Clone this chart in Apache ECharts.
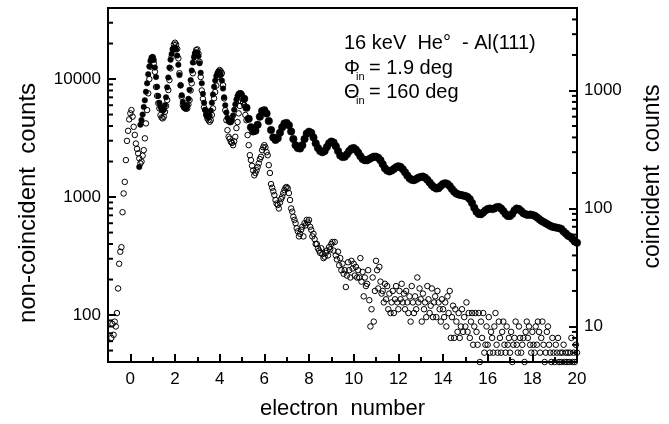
<!DOCTYPE html>
<html>
<head>
<meta charset="utf-8">
<script src="https://cdn.jsdelivr.net/npm/echarts@6/dist/echarts.min.js"></script>
<style>
html, body { margin: 0; background: #fff; }
#chart { width: 669px; height: 424px; }
</style>
</head>
<body>
<div id="chart"></div>
<script>
// axis ranges
const xRange = [-1, 20]
const leftRange = [40, 40000]   // non-coincident counts
const rightRange = [5, 5000]    // coincident counts
const leftMinor = [50, 60, 70, 80, 90, 200, 300, 400, 500, 600, 700, 800, 900,
    2000, 3000, 4000, 5000, 6000, 7000, 8000, 9000, 20000, 30000]
const rightMinor = [6, 7, 8, 9, 20, 30, 40, 50, 60, 70, 80, 90, 200, 300, 400, 500, 600, 700, 800, 900,
    2000, 3000, 4000]

// non-coincident counts (filled), x from 0.40 step 0.05 up to 5.00
const filledAStart = 0.40, filledAStep = 0.05
const filledA = [
    1800, 4100, 4500, 5000, 5800, 6600, 7800, 9200, 11000, 12800, 14200, 15200,
    15400, 14500, 12500, 10400, 8600, 7200, 6300, 5800, 5500, 5400, 5500, 6000, 7000, 8500, 10300, 12500, 14600, 16300, 17600, 18300,
    18500, 17800, 15800, 13200, 10800, 8800, 7300, 6400, 5900, 5700, 5700, 6000, 6800, 8100, 9800, 11800, 13800, 15400, 16500, 16900,
    16700, 15600, 13600, 11300, 9200, 7500, 6300, 5500, 5000, 4800, 4750, 4900, 5400, 6300, 7400, 8600, 9700, 10600, 11200, 11500,
    11400, 10800, 9700, 8300, 7000, 6000, 5200, 4700, 4400, 4300, 4300, 4500, 4900, 5500, 6100, 6700, 7200, 7500, 7600, 7600,
    7400
]
// non-coincident counts (filled), x from 5.1 step 0.1 up to 20.0
const filledBStart = 5.1, filledBStep = 0.1
const filledB = [
    6800, 5700, 4600, 3900, 3600, 3650, 4100, 4800, 5350,
    5450, 5100, 4400, 3700, 3200, 3050, 3150, 3500, 3900, 4200,
    4250, 4050, 3600, 3100, 2750, 2600, 2580, 2750, 3100, 3450,
    3580, 3500, 3200, 2850, 2600, 2450, 2400, 2450, 2650, 2850,
    2950, 2900, 2700, 2450, 2250, 2180, 2200, 2300, 2450, 2570,
    2600, 2520, 2380, 2220, 2100, 2050, 2050, 2100, 2150, 2200,
    2200, 2150, 2050, 1900, 1750, 1680, 1650, 1680, 1730, 1790,
    1820, 1800, 1720, 1620, 1520, 1440, 1400, 1390, 1420, 1460,
    1480, 1490, 1460, 1400, 1330, 1260, 1210, 1180, 1190, 1240,
    1290, 1310, 1290, 1240, 1170, 1110, 1070, 1050, 1040, 1030,
    1020, 1000, 960, 890, 810, 750, 720, 715, 740, 770,
    790, 800, 790, 800, 820, 825, 800, 760, 720, 690,
    690, 720, 770, 800, 790, 760, 730, 715, 705, 710,
    705, 695, 675, 650, 630, 615, 600, 585, 570, 560,
    555, 550, 545, 535, 510, 490, 470, 460, 440, 420,
    410
]

// coincident counts (open), x from -0.85 step 0.05 up to 20.00
const openStart = -0.85, openStep = 0.05
const openVals = [
    8, 10.5, 8.5, 11, 10, 13, 21, 34, 43, 47, 93, 134, 168, 257, 374, 455, 569,
    640, 682, 600, 492, 420, 355, 320, 293, 266, 241, 250, 280, 312, 393, 526, 682, 946, 1250, 1590, 1840,
    1910, 1700, 1440, 1070, 900, 780, 705, 618, 590, 580, 600, 659, 740, 830, 1009, 1225, 1540, 1930, 2250, 2450,
    2540, 2450, 2250, 1870, 1400, 1110, 885, 752, 720, 705, 700, 705, 760, 830, 1000, 1150, 1400, 1750, 2070, 2200,
    2230, 2050, 1750, 1300, 1000, 850, 720, 682, 620, 580, 560, 543, 560, 620, 705, 860, 970, 1100, 1300, 1450,
    1490, 1450, 1400, 1110, 857, 680, 560, 461, 405, 390, 367, 360, 344, 370, 405, 480, 540, 640, 740, 810,
    857, 800, 752, 620, 560, 419, 344, 283, 257, 230, 210, 191, 200, 211, 225, 241, 262, 274, 312, 330,
    344, 330, 300, 283, 233, 200, 161, 150, 140, 130, 118, 110, 107, 100, 112, 120, 126, 135, 143, 150,
    152, 148, 135, 118, 100, 94, 85, 80, 75, 68, 64, 58, 61, 66, 70, 58, 75, 72, 80, 76,
    80, 70, 66, 58, 61, 55, 50, 50, 46, 44, 42, 46, 41, 38, 39, 42, 44, 40, 47, 45,
    50, 52, 44, 52, 40, 37, 43, 33, 38, 30, 34, 28, 30, 21.6, 27, 35, 30, 26, 36, 31,
    34, 27, 32, 26, 30, 26, 38, 24, 29, 18, 26, 22, 23, 30, 16.7, 10, 14, 26, 11, 20,
    36, 30, 21, 32, 24, 19, 20, 16, 23, 17, 22, 14, 19, 13, 16, 20, 13, 17, 22, 16,
    14, 20, 17, 23, 16, 19, 14, 20, 16, 13, 18, 11, 22, 16, 13, 18, 14, 26, 16, 21,
    17, 11, 19, 14, 16, 12, 22, 17, 13, 15, 21, 12, 16, 18, 12, 20, 16, 14, 11, 17,
    14, 12, 16, 10, 18, 13, 20, 8, 12, 15, 8, 14, 11, 9, 13, 8, 10, 14, 9, 12,
    10, 16, 9, 13, 8, 11, 13, 7, 10, 13, 9, 7, 13, 5, 11, 8, 13, 6, 7, 10,
    7, 12, 6, 9, 8, 6, 10, 13, 7, 6, 11, 8, 6, 9, 11, 7, 6, 10, 7, 8,
    6, 9, 5, 7, 8, 11, 7, 6, 10, 8, 6, 7, 8, 5, 9, 11, 8, 10, 7, 6,
    9, 7, 6, 10, 7, 11, 9, 6, 8, 11, 7, 5, 6, 9, 10, 7, 6, 5, 8, 6,
    5, 7, 6, 8, 5, 6, 5, 6, 7, 5, 6, 5, 6, 5, 6, 8, 5, 6, 5, 7,
    6
]

const FONT = 'Liberation Sans, Arial, Helvetica, sans-serif'

function toPairs(vals, start, step) {
    return vals.map((v, i) => [Math.round((start + i * step) * 100) / 100, v])
}

function isDecade(v) {
    const e = Math.log10(v)
    return Math.abs(e - Math.round(e)) < 1e-6
}

function minorTickSeries(vals, axisIndex, xAt, dir) {
    return {
        type: 'custom',
        yAxisIndex: axisIndex,
        silent: true,
        clip: false,
        z: 5,
        data: vals.map(v => [xAt, v]),
        renderItem: function (params, api) {
            const p = api.coord([api.value(0), api.value(1)])
            return {
                type: 'line',
                shape: { x1: p[0], y1: p[1], x2: p[0] + dir * 5, y2: p[1] },
                style: { stroke: '#000', lineWidth: 2 }
            }
        }
    }
}

const chart = echarts.init(document.getElementById('chart'))

const yAxisCommon = {
    type: 'log',
    logBase: 10,
    axisLine: { show: true, onZero: false, lineStyle: { color: '#000', width: 2 } },
    axisTick: { show: true, inside: true, length: 8, lineStyle: { color: '#000', width: 2 } },
    axisLabel: {
        color: '#000', fontSize: 17, fontFamily: FONT, margin: 7,
        showMinLabel: false, showMaxLabel: false,
        formatter: v => (isDecade(v) ? String(Math.round(v)) : '')
    },
    splitLine: { show: false },
    minorTick: { show: false },
    nameLocation: 'middle',
    nameRotate: 90
}

chart.setOption({
    animation: false,
    backgroundColor: '#fff',
    grid: {
        left: 108, right: 92, top: 8, bottom: 62,
        show: true, borderColor: '#000', borderWidth: 2,
        outerBoundsMode: 'none'
    },
    xAxis: {
        type: 'value',
        min: xRange[0], max: xRange[1],
        splitNumber: 10,
        axisLine: { onZero: false, lineStyle: { color: '#000', width: 2 } },
        axisTick: { inside: true, length: 8, lineStyle: { color: '#000', width: 2 } },
        minorTick: { show: true, splitNumber: 2, length: 5, lineStyle: { color: '#000', width: 2 } },
        axisLabel: { color: '#000', fontSize: 17, fontFamily: FONT, margin: 9, showMinLabel: false },
        splitLine: { show: false },
        name: 'electron  number',
        nameLocation: 'middle',
        nameGap: 36,
        nameTextStyle: { color: '#000', fontSize: 22, fontFamily: FONT }
    },
    yAxis: [
        Object.assign({}, yAxisCommon, {
            position: 'left',
            min: leftRange[0], max: leftRange[1],
            name: 'non-coincident  counts',
            nameGap: 68,
            nameTextStyle: { color: '#000', fontSize: 24, fontFamily: FONT, padding: [0, 36, 0, 0] }
        }),
        Object.assign({}, yAxisCommon, {
            position: 'right',
            min: rightRange[0], max: rightRange[1],
            name: 'coincident  counts',
            nameGap: 64,
            nameTextStyle: { color: '#000', fontSize: 23, fontFamily: FONT, padding: [0, 0, 0, 17] }
        })
    ],
    graphic: [
        { type: 'text', x: 344, y: 43, style: { text: '16 keV  He\u00b0  - Al(111)', font: '20px ' + FONT, fill: '#000', verticalAlign: 'middle' } },
        { type: 'text', x: 344, y: 68, style: { text: '\u03a6', font: '20px ' + FONT, fill: '#000', verticalAlign: 'middle' } },
        { type: 'text', x: 356, y: 77, style: { text: 'in', font: '11px ' + FONT, fill: '#000', verticalAlign: 'middle' } },
        { type: 'text', x: 369, y: 68, style: { text: '= 1.9 deg', font: '20px ' + FONT, fill: '#000', verticalAlign: 'middle' } },
        { type: 'text', x: 344, y: 92, style: { text: '\u0398', font: '20px ' + FONT, fill: '#000', verticalAlign: 'middle' } },
        { type: 'text', x: 356, y: 101, style: { text: 'in', font: '11px ' + FONT, fill: '#000', verticalAlign: 'middle' } },
        { type: 'text', x: 369, y: 92, style: { text: '= 160 deg', font: '20px ' + FONT, fill: '#000', verticalAlign: 'middle' } }
    ],
    series: [
        {
            name: 'non-coincident counts',
            type: 'scatter',
            yAxisIndex: 0,
            symbol: 'circle',
            // smaller dots where they stand apart, thicker band once they merge
            symbolSize: val => (val[0] <= 5 ? 5.5 : 7.5),
            itemStyle: { color: '#000', borderColor: '#000', borderWidth: 0.5, opacity: 1 },
            data: toPairs(filledA, filledAStart, filledAStep).concat(toPairs(filledB, filledBStart, filledBStep))
        },
        {
            name: 'coincident counts',
            type: 'scatter',
            yAxisIndex: 1,
            symbol: 'circle',
            symbolSize: 5.5,
            itemStyle: { color: 'rgba(0,0,0,0)', borderColor: '#000', borderWidth: 1, opacity: 1 },
            data: toPairs(openVals, openStart, openStep)
        },
        minorTickSeries(leftMinor, 0, xRange[0], 1),
        minorTickSeries(rightMinor, 1, xRange[1], -1)
    ]
})
</script>
</body>
</html>
